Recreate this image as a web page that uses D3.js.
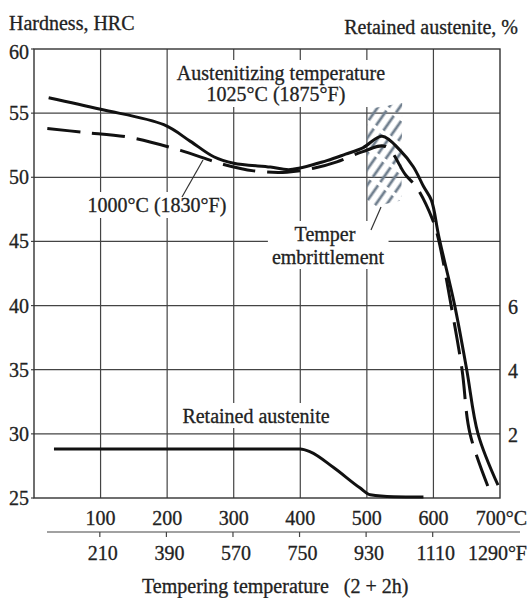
<!DOCTYPE html>
<html>
<head>
<meta charset="utf-8">
<style>
       body {
              margin: 0;
              background: #fff;
       }
       svg {
              font-family: "Liberation Serif", "Times New Roman", serif;
              font-size: 20px;
       }
       svg text {
              fill: #222;
              stroke: #222;
              stroke-width: 0.3;
       }
       .grid line {
              stroke: #444;
              stroke-width: 1.2;
       }
       .frame {
              fill: none;
              stroke: #333;
              stroke-width: 1.4;
       }
       .curve {
              fill: none;
              stroke: #111;
              stroke-width: 3;
       }
       .label-box {
              fill: #fff;
       }
       .leader {
              stroke: #333;
              stroke-width: 1.2;
       }
</style>
</head>
<body>
<script src="https://cdn.jsdelivr.net/npm/d3@7"></script>
<script>

     // hardness curves, [temper temperature degC, HRC]
     var hard1025 = [[22, 56.2], [100, 55.3], [195, 54.1], [235, 52.8], [270, 51.6], [300, 51.1],
          [355, 50.8], [385, 50.6], [440, 51.3], [468, 51.8], [494, 52.3], [523, 53.2], [550, 52.1],
          [570, 50.8], [585, 49.3], [597, 48.2], [608, 45.4], [632, 40.0], [650, 35.0], [667, 30.0],
          [697, 26.0]],
        hard1000 = [[20, 53.8], [75, 53.5], [145, 53.1], [220, 52.1], [285, 51.0], [330, 50.5],
          [380, 50.4], [420, 50.7], [455, 51.2], [494, 52.0], [528, 52.4], [558, 50.2], [575, 49.2],
          [598, 46.8], [607, 45.3], [628, 39.6], [643, 35.0], [655, 30.0], [688, 25.1]],
        // retained austenite, [degC, %]
        austenite = [[30, 1.53], [400, 1.53], [415, 1.44], [450, 0.95], [490, 0.31], [505, 0.1],
          [540, 0.04], [585, 0.03]],
        // hatched temper embrittlement zone, [degC, HRC]
        embrittleZone = [[500, 55.3], [553, 55.8], [552, 48.2], [500, 47.6]],
        cTicks = [100, 200, 300, 400, 500, 600, 700],
        fTicks = [210, 390, 570, 750, 930, 1110, 1290],
        hrcTicks = [25, 30, 35, 40, 45, 50, 55, 60],
        raTicks = [2, 4, 6];

     var width = 527,
            height = 598,
            x = d3.scaleLinear().domain([0, 700]).range([34, 500]),
            y = d3.scaleLinear().domain([25, 60]).range([498, 49]),
            yRight = d3.scaleLinear().domain([0, 14]).range([498, 49]),
            fAxisY = 532;

     var svg = d3.select("body").append("svg")
          .attr("width", width)
          .attr("height", height);

     var pat = svg.append("defs").append("pattern")
          .attr("id", "hatch")
          .attr("patternUnits", "userSpaceOnUse")
          .attr("width", 9)
          .attr("height", 22)
          .attr("patternTransform", "rotate(35)");
     pat.append("line")
          .attr("x1", 2).attr("x2", 2)
          .attr("y1", 1).attr("y2", 19)
          .attr("stroke", "#71808f")
          .attr("stroke-width", 2.8);

     // grid
     var grid = svg.append("g").attr("class", "grid");
     grid.selectAll(".v")
          .data(cTicks.slice(0, -1))
        .enter().append("line")
          .attr("class", "v")
          .attr("x1", function(d) { return x(d); })
          .attr("x2", function(d) { return x(d); })
          .attr("y1", y(60))
          .attr("y2", y(25));
     grid.selectAll(".h")
          .data(hrcTicks.slice(1, -1))
        .enter().append("line")
          .attr("class", "h")
          .attr("x1", x(0))
          .attr("x2", x(700))
          .attr("y1", function(d) { return y(d); })
          .attr("y2", function(d) { return y(d); });
     grid.selectAll(".lt")
          .data(hrcTicks)
        .enter().append("line")
          .attr("class", "lt")
          .attr("x1", x(0) - 3)
          .attr("x2", x(0))
          .attr("y1", function(d) { return y(d); })
          .attr("y2", function(d) { return y(d); });

     svg.append("rect")
          .attr("class", "frame")
          .attr("x", x(0))
          .attr("y", y(60))
          .attr("width", x(700) - x(0))
          .attr("height", y(25) - y(60));

     // annotation labels with white backing
     var notes = [
          {lines: ["Austenitizing temperature", "1025°C (1875°F)"], cx: [281, 276], by: [80, 101]},
          {lines: ["1000°C (1830°F)"], cx: [157], by: [212]},
          {lines: ["Temper", "embrittlement"], cx: [325, 328], by: [241, 264]},
          {lines: ["Retained austenite"], cx: [256], by: [423]}
     ];
     var boxLayer = svg.append("g");
     var noteLayer = svg.append("g");
     notes.forEach(function(n) {
          var g = noteLayer.append("g");
          n.lines.forEach(function(t, i) {
               g.append("text")
                    .attr("x", n.cx[i])
                    .attr("y", n.by[i])
                    .attr("text-anchor", "middle")
                    .text(t);
          });
          var b = g.node().getBBox();
          boxLayer.append("rect")
               .attr("class", "label-box")
               .attr("x", b.x - 4)
               .attr("y", b.y - 2)
               .attr("width", b.width + 8)
               .attr("height", b.height + 3);
     });

     // hatched zone
     svg.append("path")
          .datum(embrittleZone)
          .attr("d", function(d) {
               return "M" + d.map(function(p) { return x(p[0]) + "," + y(p[1]); }).join("L") + "Z";
          })
          .attr("fill", "url(#hatch)");

     var hLine = d3.line()
          .x(function(d) { return x(d[0]); })
          .y(function(d) { return y(d[1]); })
          .curve(d3.curveCatmullRom.alpha(0.5));

     svg.append("path")
          .datum(hard1025)
          .attr("class", "curve")
          .attr("d", hLine);

     svg.append("path")
          .datum(hard1000)
          .attr("class", "curve")
          .attr("stroke-dasharray", "33,12")
          .attr("d", hLine);

     svg.append("path")
          .datum(austenite)
          .attr("class", "curve")
          .attr("stroke-width", 3.6)
          .attr("d", d3.line()
               .x(function(d) { return x(d[0]); })
               .y(function(d) { return yRight(d[1]); })
               .curve(d3.curveMonotoneX));

     // leader lines
     svg.append("line").attr("class", "leader")
          .attr("x1", 182).attr("y1", 197).attr("x2", 203).attr("y2", 160);
     svg.append("line").attr("class", "leader")
          .attr("x1", 371).attr("y1", 230).attr("x2", 381).attr("y2", 207);

     // left axis labels
     svg.append("g").selectAll("text")
          .data(hrcTicks)
        .enter().append("text")
          .attr("x", 29)
          .attr("y", function(d) { return y(d) + 7 + (d === 60 ? 3 : 0); })
          .attr("text-anchor", "end")
          .text(function(d) { return d; });

     // right axis labels
     svg.append("g").selectAll("text")
          .data(raTicks)
        .enter().append("text")
          .attr("x", 508)
          .attr("y", function(d) { return yRight(d) + 8; })
          .text(function(d) { return d; });

     svg.append("text")
          .attr("x", 9)
          .attr("y", 30)
          .text("Hardness, HRC");

     svg.append("text")
          .attr("x", 518)
          .attr("y", 34)
          .attr("text-anchor", "end")
          .text("Retained austenite, %");

     // celsius labels
     svg.append("g").selectAll("text")
          .data(cTicks)
        .enter().append("text")
          .attr("x", function(d, i) { return i === cTicks.length - 1 ? 527 : x(d); })
          .attr("y", 525)
          .attr("text-anchor", function(d, i) { return i === cTicks.length - 1 ? "end" : "middle"; })
          .text(function(d, i) { return d + (i === cTicks.length - 1 ? "°C" : ""); });

     // fahrenheit axis
     var fx = function(f) { return x((f - 32) * 5 / 9); };
     svg.append("line")
          .attr("x1", 47).attr("x2", 520)
          .attr("y1", fAxisY).attr("y2", fAxisY)
          .attr("stroke", "#444").attr("stroke-width", 1.2);
     svg.append("g").selectAll("line")
          .data(fTicks.slice(0, -1))
        .enter().append("line")
          .attr("x1", fx).attr("x2", fx)
          .attr("y1", fAxisY).attr("y2", fAxisY + 5)
          .attr("stroke", "#444").attr("stroke-width", 1.2);
     svg.append("g").selectAll("text")
          .data(fTicks)
        .enter().append("text")
          .attr("x", function(d, i) { return i === fTicks.length - 1 ? 527 : fx(d) + 3; })
          .attr("y", 560)
          .attr("text-anchor", function(d, i) { return i === fTicks.length - 1 ? "end" : "middle"; })
          .text(function(d, i) { return d + (i === fTicks.length - 1 ? "°F" : ""); });

     svg.append("text")
          .attr("x", 142)
          .attr("y", 593)
          .style("white-space", "pre")
          .text("Tempering temperature   (2 + 2h)");

</script>
</body>
</html>
